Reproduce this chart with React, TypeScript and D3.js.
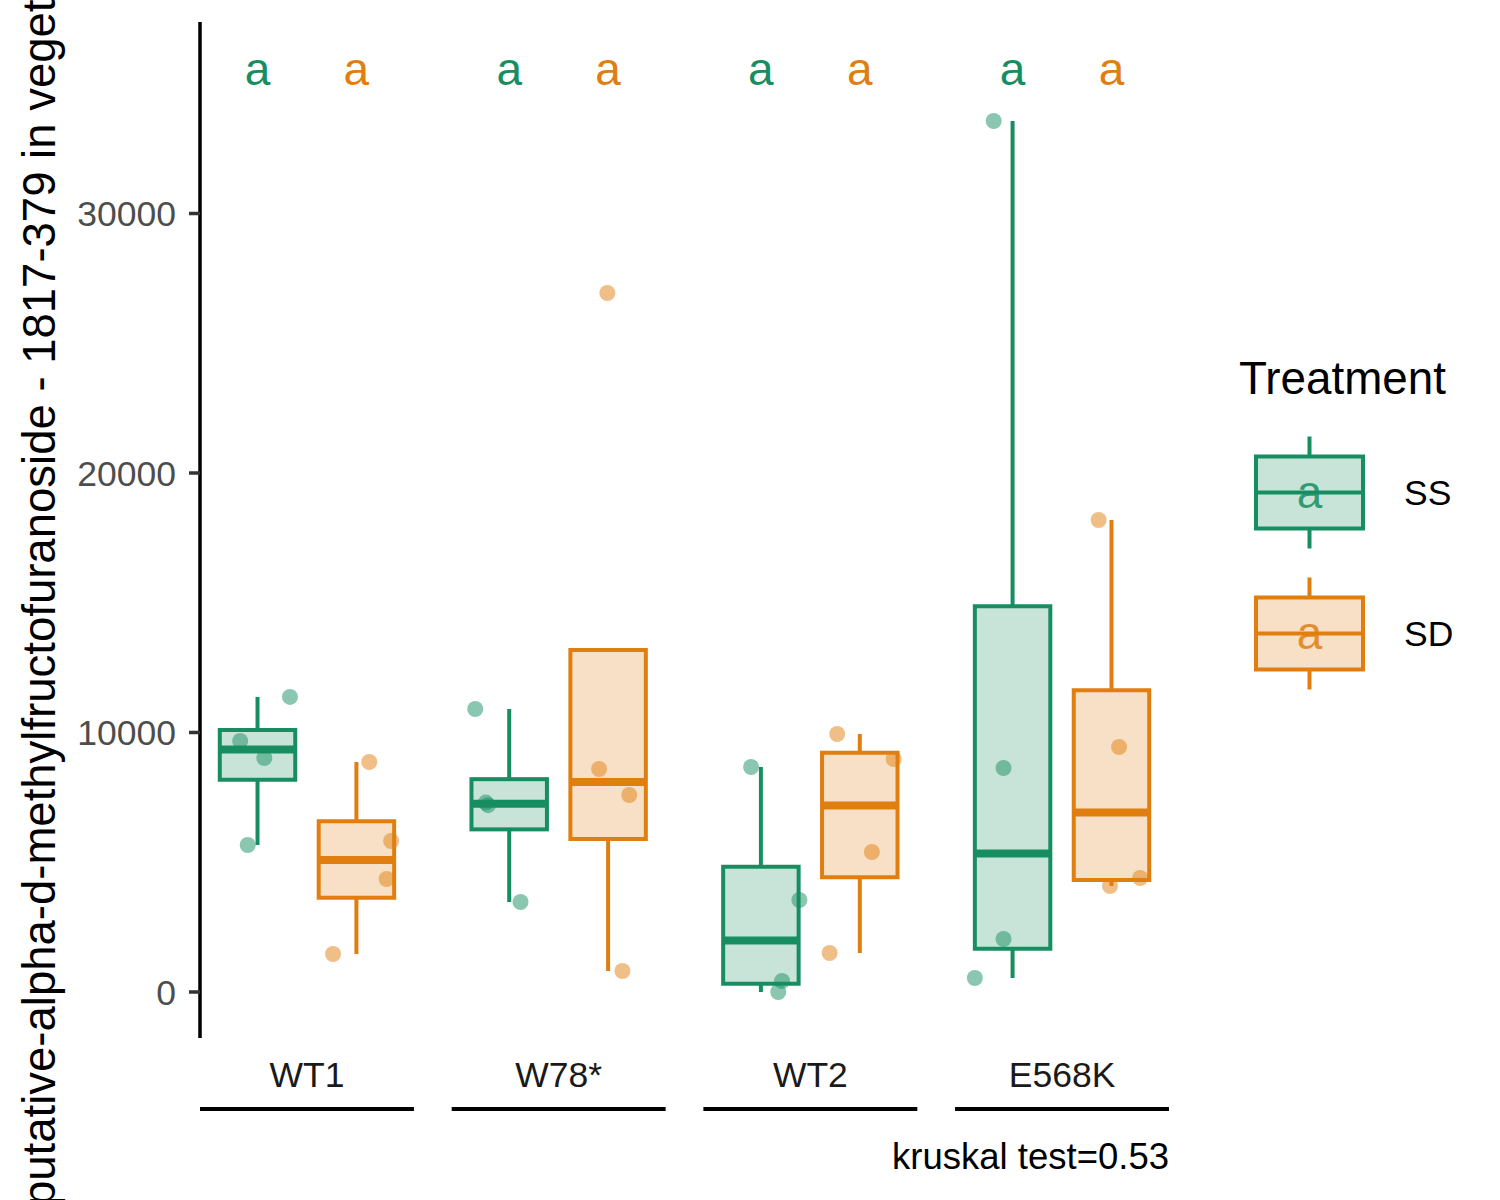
import * as d3 from "d3";

// Boxplot of one metabolite per genotype, SS vs SD treatment (ggplot-like look)

const FONT = "'Liberation Sans', Arial, Helvetica, sans-serif";
const GREEN = "#178E62";
const ORANGE = "#E07F10";

// ---------------------------------------------------------------------------
// Data
// ---------------------------------------------------------------------------

const GROUPS = ["WT1", "W78*", "WT2", "E568K"];
const TREATMENTS = ["SS", "SD"];
const COLORS = [GREEN, ORANGE];

// four replicates per genotype
const SS_VALUES = [
  [11370, 9672, 9017, 5665],
  [10906, 7300, 7200, 3468],
  [8670, 3545, 424, 0],
  [33565, 8632, 2042, 540],
];
const SD_VALUES = [
  [8863, 5819, 4355, 1464],
  [26936, 8593, 7592, 809],
  [9942, 8979, 5395, 1503],
  [18189, 9441, 4393, 4085],
];

// horizontal jitter, as a fraction of the box width
const SS_JITTER = [
  [0.43, -0.23, 0.09, -0.13],
  [-0.45, -0.31, -0.28, 0.15],
  [-0.13, 0.51, 0.28, 0.23],
  [-0.25, -0.12, -0.12, -0.5],
];
const SD_JITTER = [
  [0.17, 0.46, 0.4, -0.31],
  [-0.01, -0.12, 0.28, 0.19],
  [-0.3, 0.45, 0.16, -0.4],
  [-0.17, 0.1, 0.38, -0.02],
];

const SS_LETTERS = ["a", "a", "a", "a"];
const SD_LETTERS = ["a", "a", "a", "a"];
const LETTER_Y = 35400;

const Y_TICKS = [0, 10000, 20000, 30000];
const Y_DOMAIN = [-1773, 37380];

const Y_TITLE =
  "putative-alpha-d-methylfructofuranoside - 1817-379 in vegetative tissue";
const LEGEND_TITLE = "Treatment";
const KRUSKAL = "kruskal test=0.53";

// ---------------------------------------------------------------------------
// Layout
// ---------------------------------------------------------------------------

const PANEL = { left: 200, right: 1169, top: 22, bottom: 1038 };
const LINE_W = 4;

function boxStats(values: number[]) {
  const s = [...values].sort(d3.ascending);
  const q1 = d3.quantile(s, 0.25)!;
  const med = d3.quantile(s, 0.5)!;
  const q3 = d3.quantile(s, 0.75)!;
  const iqr = q3 - q1;
  // whiskers reach the furthest point inside 1.5 IQR, never inside the box
  const lo = Math.min(q1, d3.min(s.filter((v) => v >= q1 - 1.5 * iqr))!);
  const hi = Math.max(q3, d3.max(s.filter((v) => v <= q3 + 1.5 * iqr))!);
  return { q1, med, q3, lo, hi };
}

export default function App() {
  const width = 1500;
  const height = 1200;

  const x = d3
    .scaleBand<string>()
    .domain(GROUPS)
    .range([PANEL.left, PANEL.right])
    .paddingInner(0.15)
    .paddingOuter(0);

  const xInner = d3
    .scaleBand<string>()
    .domain(TREATMENTS)
    .range([0, x.bandwidth()])
    .paddingInner(0.237)
    .paddingOuter(0.2);

  const y = d3.scaleLinear().domain(Y_DOMAIN).range([PANEL.bottom, PANEL.top]);

  const series = [
    { values: SS_VALUES, jitter: SS_JITTER, letters: SS_LETTERS },
    { values: SD_VALUES, jitter: SD_JITTER, letters: SD_LETTERS },
  ];

  const bw = xInner.bandwidth();

  return (
    <svg
      width={width}
      height={height}
      style={{ position: "absolute", left: 0, top: 0, background: "white" }}
      fontFamily={FONT}
    >
      {/* Y axis */}
      <line
        x1={PANEL.left}
        x2={PANEL.left}
        y1={PANEL.top}
        y2={PANEL.bottom}
        stroke="black"
        strokeWidth={3.5}
      />
      {Y_TICKS.map((t) => (
        <g key={t}>
          <line
            x1={PANEL.left - 11}
            x2={PANEL.left}
            y1={y(t)}
            y2={y(t)}
            stroke="#333333"
            strokeWidth={3.5}
          />
          <text
            x={PANEL.left - 24}
            y={y(t)}
            dy="0.36em"
            textAnchor="end"
            fontSize={35.5}
            fill="#4D4D4D"
          >
            {t}
          </text>
        </g>
      ))}

      {/* Y title */}
      <text
        transform={`translate(55,1206) rotate(-90)`}
        textAnchor="start"
        fontSize={45.5}
        fill="black"
      >
        {Y_TITLE}
      </text>

      {/* Boxes, whiskers, points, letters */}
      {series.map((s, ti) => {
        const color = COLORS[ti];
        return GROUPS.map((g, gi) => {
          const st = boxStats(s.values[gi]);
          const x0 = x(g)! + xInner(TREATMENTS[ti])!;
          const cx = x0 + bw / 2;
          return (
            <g key={`${ti}-${g}`}>
              <line x1={cx} x2={cx} y1={y(st.q3)} y2={y(st.hi)} stroke={color} strokeWidth={LINE_W} />
              <line x1={cx} x2={cx} y1={y(st.q1)} y2={y(st.lo)} stroke={color} strokeWidth={LINE_W} />
              <rect
                x={x0}
                y={y(st.q3)}
                width={bw}
                height={y(st.q1) - y(st.q3)}
                fill={color}
                fillOpacity={0.24}
                stroke={color}
                strokeWidth={LINE_W}
              />
              <line
                x1={x0}
                x2={x0 + bw}
                y1={y(st.med)}
                y2={y(st.med)}
                stroke={color}
                strokeWidth={LINE_W * 2}
              />
              {s.values[gi].map((v, pi) => (
                <circle
                  key={pi}
                  cx={cx + s.jitter[gi][pi] * bw}
                  cy={y(v)}
                  r={8}
                  fill={color}
                  fillOpacity={0.5}
                />
              ))}
              <text
                x={cx}
                y={y(LETTER_Y)}
                dy="0.26em"
                textAnchor="middle"
                fontSize={46}
                fill={color}
              >
                {s.letters[gi]}
              </text>
            </g>
          );
        });
      })}

      {/* X labels with group brackets */}
      {GROUPS.map((g) => (
        <g key={g}>
          <text
            x={x(g)! + x.bandwidth() / 2}
            y={1087}
            textAnchor="middle"
            fontSize={35.5}
            fill="#1A1A1A"
          >
            {g}
          </text>
          <line
            x1={x(g)!}
            x2={x(g)! + x.bandwidth()}
            y1={1109}
            y2={1109}
            stroke="black"
            strokeWidth={4}
          />
        </g>
      ))}

      <text x={PANEL.right} y={1169} textAnchor="end" fontSize={36.5} fill="black">
        {KRUSKAL}
      </text>

      {/* Legend */}
      <text x={1239} y={394} fontSize={45.8} fill="black">
        {LEGEND_TITLE}
      </text>
      {TREATMENTS.map((t, i) => {
        const color = COLORS[i];
        const cy = 492.5 + i * 141;
        const kx = 1256;
        const kw = 107;
        const kh = 72;
        return (
          <g key={t}>
            <line x1={kx + kw / 2} x2={kx + kw / 2} y1={cy - kh / 2 - 20} y2={cy + kh / 2 + 20} stroke={color} strokeWidth={LINE_W} />
            <rect
              x={kx}
              y={cy - kh / 2}
              width={kw}
              height={kh}
              fill="white"
            />
            <rect
              x={kx}
              y={cy - kh / 2}
              width={kw}
              height={kh}
              fill={color}
              fillOpacity={0.24}
              stroke={color}
              strokeWidth={LINE_W}
            />
            <line x1={kx} x2={kx + kw} y1={cy} y2={cy} stroke={color} strokeWidth={LINE_W} />
            <text
              x={kx + kw / 2}
              y={cy + 4}
              dy="0.26em"
              textAnchor="middle"
              fontSize={46}
              fill={color}
              fillOpacity={0.85}
            >
              {(i === 0 ? SS_LETTERS : SD_LETTERS)[0]}
            </text>
            <text x={1404} y={cy} dy="0.36em" fontSize={35.5} fill="black">
              {t}
            </text>
          </g>
        );
      })}
    </svg>
  );
}
